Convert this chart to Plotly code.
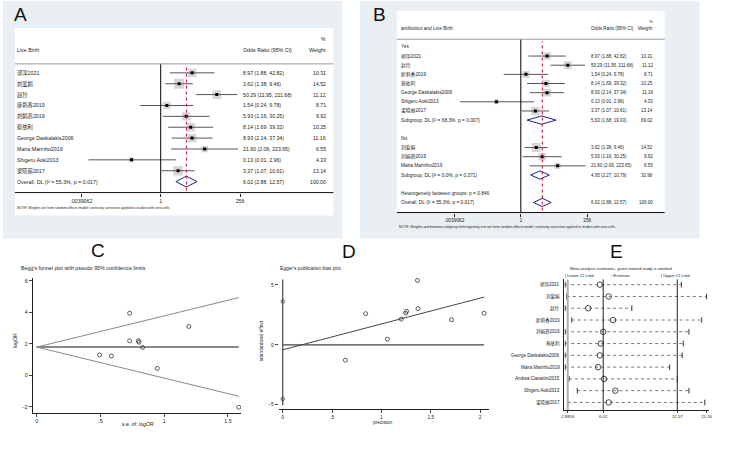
import plotly.graph_objects as go

W, H = 750, 458
FONT = "Liberation Sans, Arial, Noto Sans CJK SC, sans-serif"

# ---------------- data ----------------
A_STUDIES = ["郭萍2021", "刘爱娟", "赵玲", "廖莉香2019", "刘娟燕2019", "蔡依利",
             "George Daskalakis2006", "Maira Marinho2019", "Shigeru Aoki2013", "梁晓丽2017"]
A_OR = [8.97, 3.62, 50.29, 1.54, 5.93, 8.14, 8.93, 21.60, 0.13, 3.37]
A_LO = [1.88, 1.38, 11.95, 0.24, 1.16, 1.69, 2.14, 2.09, 0.0064, 1.07]
A_HI = [42.82, 9.46, 211.68, 9.78, 30.25, 39.32, 37.34, 223.65, 2.96, 10.61]
A_W = [10.31, 14.52, 11.12, 8.71, 9.92, 10.25, 11.16, 6.55, 4.33, 13.14]
OVERALL = [6.02, 2.88, 12.57, 100.00]
OVERALL_LABEL = "Overall, DL (I² = 55.3%, p = 0.017)"

B_YES_STUDIES = ["郭萍2021", "赵玲", "廖莉香2019", "蔡依利", "George Daskalakis2006",
                 "Shigeru Aoki2013", "梁晓丽2017"]
B_YES_OR = [8.97, 50.29, 1.54, 8.14, 8.93, 0.13, 3.37]
B_YES_LO = [1.88, 11.95, 0.24, 1.69, 2.14, 0.0064, 1.07]
B_YES_HI = [42.82, 211.68, 9.78, 39.32, 37.34, 2.96, 10.61]
B_YES_W = [10.31, 11.12, 8.71, 10.25, 11.16, 4.33, 13.14]
B_YES_SUB = [5.63, 1.68, 19.03, 69.02]
B_YES_SUB_LABEL = "Subgroup, DL (I² = 68.3%, p = 0.007)"

B_NO_STUDIES = ["刘爱娟", "刘娟燕2019", "Maira Marinho2019"]
B_NO_OR = [3.62, 5.93, 21.60]
B_NO_LO = [1.38, 1.16, 2.09]
B_NO_HI = [9.46, 30.25, 223.65]
B_NO_W = [14.52, 9.92, 6.55]
B_NO_SUB = [4.95, 2.27, 10.79, 30.98]
B_NO_SUB_LABEL = "Subgroup, DL (I² = 0.0%, p = 0.371)"
B_HET_LABEL = "Heterogeneity between groups: p = 0.846"

FOREST_TICKS = [2 ** -8, 1, 256]
FOREST_TICKTEXT = [".0039062", "1", "256"]

# Begg funnel (C)
C_SE = [0.729, 1.193, 0.729, 0.797, 0.803, 0.83, 0.493, 0.586, 0.946, 1.585]
C_LOGOR = [3.94, 3.10, 2.19, 2.19, 2.10, 1.77, 1.29, 1.22, 0.44, -2.03]
C_POOLED = 1.79
C_FUNNEL_SE = [0, 1.585]
C_FUNNEL_UP = [1.79, 4.93]
C_FUNNEL_LOW = [1.79, -1.33]

# Egger (D)
D_PREC = [0.84, 0.635, 1.06, 1.20, 1.245, 1.255, 1.365, 1.37, 1.71, 2.04]
D_STD = [2.60, -1.28, 0.47, 2.15, 2.65, 2.80, 5.38, 3.02, 2.09, 2.64]
D_REG_X = [0, 2.04]
D_REG_Y = [-0.42, 3.99]
D_ZERO_X = [0, 2.04]
D_INT_CI = [-5.05, 5.45]
D_INT_MARK = [3.62, -4.52]

# Influence (E)
E_STUDIES = ["郭萍2021", "刘爱娟", "赵玲", "廖莉香2019", "刘娟燕2019", "蔡依利",
             "George Daskalakis2006", "Maira Marinho2019", "Andrea Ciavattini2015",
             "Shigeru Aoki2013", "梁晓丽2017"]
E_EST = [5.72, 6.51, 4.70, 6.89, 6.02, 5.81, 5.72, 5.57, 6.10, 7.09, 6.51]
E_LO = [2.66, 2.80, 2.66, 3.24, 2.66, 2.66, 2.66, 2.66, 3.00, 3.73, 2.89]
E_HI = [12.93, 15.16, 8.55, 14.74, 13.60, 13.10, 13.00, 11.90, 12.57, 13.60, 15.00]
E_REF = [2.8856, 6.02, 12.57]
E_TICKS = [2.8856, 6.02, 12.57, 15.16]
E_TICKTEXT = ["2.8856", "6.02", "12.57", "15.16"]


def px(x):
    return x / W


def py(y):
    return 1 - y / H


fig = go.Figure()
shapes = []
annotations = []


def ann(text, x, y, xref="paper", yref="paper", size=5.5, xanchor="left",
        yanchor="middle", color="#222", angle=0):
    annotations.append(dict(text=text, x=x, y=y, xref=xref, yref=yref, showarrow=False,
                            xanchor=xanchor, yanchor=yanchor, textangle=angle,
                            font=dict(family=FONT, size=size, color=color), borderpad=0))


def rect(x0, y0, x1, y1, color):
    shapes.append(dict(type="rect", xref="paper", yref="paper", x0=px(x0), x1=px(x1),
                       y0=py(y1), y1=py(y0), fillcolor=color, line=dict(width=0), layer="below"))


def hline(x0, x1, y, color, width=1):
    shapes.append(dict(type="line", xref="paper", yref="paper", x0=px(x0), x1=px(x1),
                       y0=py(y), y1=py(y), line=dict(color=color, width=width)))


def fmt_ci(o, l, h):
    return f"{o:.2f} ({l:.2f}, {h:.2f})"


# backgrounds
BG = "#e9eff2"
rect(0, 0, 342, 238, BG)
rect(360, 0, 702, 238, BG)
rect(12, 27, 333, 215, "white")
rect(397, 10, 667, 212, "white")


def draw_forest(sfx, rows, label_x, ci_x, w_x, box_k, dia_h, top_px, axis_px, box_l, box_r,
                lab_size, num_size):
    xa = "x" + sfx
    ya = "y" + sfx
    lx, ly = [], []
    bx, by, bs = [], [], []
    for i, r in enumerate(rows):
        k = r["kind"]
        if k == "blank":
            continue
        ann(r["label"], px(label_x), i, yref=ya, size=lab_size)
        if k == "text":
            continue
        o, l, h, w = r["vals"]
        ann(fmt_ci(o, l, h), px(ci_x), i, yref=ya, size=num_size)
        ann(f"{w:.2f}", px(w_x), i, yref=ya, xanchor="right", size=num_size)
        if k == "study":
            lx += [l, h, None]
            ly += [i, i, None]
            bx.append(o)
            by.append(i)
            bs.append(box_k * w ** 0.5)
        else:
            fig.add_trace(go.Scatter(x=[l, o, h, o, l], y=[i, i - dia_h, i, i + dia_h, i],
                                     mode="lines", fill="toself", fillcolor="white",
                                     line=dict(color="#23237e", width=1),
                                     xaxis=xa, yaxis=ya, hoverinfo="skip"))
    fig.add_trace(go.Scatter(x=bx, y=by, mode="markers", xaxis=xa, yaxis=ya,
                             marker=dict(symbol="square", size=bs, color="#c4c4c4", line=dict(width=0))))
    fig.add_trace(go.Scatter(x=lx, y=ly, mode="lines", xaxis=xa, yaxis=ya,
                             line=dict(color="#555555", width=1)))
    fig.add_trace(go.Scatter(x=bx, y=by, mode="markers", xaxis=xa, yaxis=ya,
                             marker=dict(symbol="square", size=3, color="black")))
    shapes.append(dict(type="line", xref=xa, yref="paper", x0=1, x1=1, y0=py(axis_px), y1=py(top_px),
                       line=dict(color="black", width=1)))
    shapes.append(dict(type="line", xref=xa, yref="paper", x0=OVERALL[0], x1=OVERALL[0],
                       y0=py(axis_px - 2), y1=py(top_px + 2),
                       line=dict(color="#c8102e", width=1, dash="dot")))
    hline(box_l, box_r, top_px, "#9a9a9a", 1)
    hline(box_l, box_r, axis_px, "#111111", 1)


# ---- Panel A rows
rows_a = [dict(kind="study", label=s, vals=(o, l, h, w))
          for s, o, l, h, w in zip(A_STUDIES, A_OR, A_LO, A_HI, A_W)]
rows_a.append(dict(kind="overall", label=OVERALL_LABEL, vals=tuple(OVERALL)))
draw_forest("", rows_a, 13, 241, 327, 2.6, 0.5, 63, 192, 12, 333, 5.3, 5.2)

# ---- Panel B rows
rows_b = [dict(kind="text", label="Yes")]
rows_b += [dict(kind="study", label=s, vals=(o, l, h, w))
           for s, o, l, h, w in zip(B_YES_STUDIES, B_YES_OR, B_YES_LO, B_YES_HI, B_YES_W)]
rows_b.append(dict(kind="sub", label=B_YES_SUB_LABEL, vals=tuple(B_YES_SUB)))
rows_b.append(dict(kind="blank"))
rows_b.append(dict(kind="text", label="No"))
rows_b += [dict(kind="study", label=s, vals=(o, l, h, w))
           for s, o, l, h, w in zip(B_NO_STUDIES, B_NO_OR, B_NO_LO, B_NO_HI, B_NO_W)]
rows_b.append(dict(kind="sub", label=B_NO_SUB_LABEL, vals=tuple(B_NO_SUB)))
rows_b.append(dict(kind="blank"))
rows_b.append(dict(kind="text", label=B_HET_LABEL))
rows_b.append(dict(kind="overall", label=OVERALL_LABEL, vals=tuple(OVERALL)))
draw_forest("2", rows_b, 400, 592, 656, 2.35, 0.45, 38.3, 212, 397, 667, 4.8, 4.5)

# headers A
ann("%", px(327), py(38), size=5, xanchor="right")
ann("Live Birth", px(13), py(49), size=5.3)
ann("Odds Ratio (95% CI)", px(241), py(49), size=5.3)
ann("Weight", px(327), py(49), size=5.3, xanchor="right")
ann("NOTE: Weights are from random-effects model; continuity correction applied to studies with zero cells",
    px(13), py(207), size=3.4)
# headers B
ann("%", px(656), py(20.5), size=4.4, xanchor="right")
ann("antibiotics and Live Birth", px(400), py(27.5), size=4.8)
ann("Odds Ratio (95% CI)", px(592), py(27.5), size=4.6)
ann("Weight", px(656), py(27.5), size=4.6, xanchor="right")
ann("NOTE: Weights and between-subgroup heterogeneity test are from random-effects model; "
    "continuity correction applied to studies with zero cells", px(398), py(226), size=3.4)

# ---- Panel C
fig.add_trace(go.Scatter(x=C_FUNNEL_SE, y=C_FUNNEL_UP, mode="lines", xaxis="x3", yaxis="y3",
                         line=dict(color="#8a8a8a", width=1)))
fig.add_trace(go.Scatter(x=C_FUNNEL_SE, y=C_FUNNEL_LOW, mode="lines", xaxis="x3", yaxis="y3",
                         line=dict(color="#8a8a8a", width=1)))
fig.add_trace(go.Scatter(x=C_FUNNEL_SE, y=[C_POOLED, C_POOLED], mode="lines", xaxis="x3", yaxis="y3",
                         line=dict(color="#8a8a8a", width=2)))
fig.add_trace(go.Scatter(x=C_SE, y=C_LOGOR, mode="markers", xaxis="x3", yaxis="y3",
                         marker=dict(symbol="circle-open", size=4, color="#333",
                                     line=dict(width=0.8, color="#333"))))

# ---- Panel D
fig.add_trace(go.Scatter(x=[0, 0], y=D_INT_CI, mode="lines", xaxis="x4", yaxis="y4",
                         line=dict(color="#444", width=1.2)))
fig.add_trace(go.Scatter(x=[0, 0], y=D_INT_MARK, mode="markers", xaxis="x4", yaxis="y4",
                         marker=dict(symbol="circle-open", size=3.5, color="#444",
                                     line=dict(width=0.8, color="#444"))))
fig.add_trace(go.Scatter(x=D_ZERO_X, y=[0, 0], mode="lines", xaxis="x4", yaxis="y4",
                         line=dict(color="#444", width=1.2)))
fig.add_trace(go.Scatter(x=D_REG_X, y=D_REG_Y, mode="lines", xaxis="x4", yaxis="y4",
                         line=dict(color="#444", width=1)))
fig.add_trace(go.Scatter(x=D_PREC, y=D_STD, mode="markers", xaxis="x4", yaxis="y4",
                         marker=dict(symbol="circle-open", size=4, color="#333",
                                     line=dict(width=0.8, color="#333"))))

# ---- Panel E
for v, c, w in zip(E_REF, ["#b0b0b0", "#222", "#222"], [2, 1, 1]):
    shapes.append(dict(type="line", xref="x5", yref="y5 domain", x0=v, x1=v, y0=0, y1=1,
                       line=dict(color=c, width=w)))
ex, ey = [], []
for i, (l, h) in enumerate(zip(E_LO, E_HI)):
    ex += [l, h, None]
    ey += [i, i, None]
fig.add_trace(go.Scatter(x=ex, y=ey, mode="lines", xaxis="x5", yaxis="y5",
                         line=dict(color="#777", width=1, dash="dot")))
fig.add_trace(go.Scatter(x=E_LO + E_HI, y=list(range(len(E_LO))) * 2, mode="markers",
                         xaxis="x5", yaxis="y5",
                         marker=dict(symbol="line-ns", size=4, line=dict(width=1, color="#333"))))
fig.add_trace(go.Scatter(x=E_EST, y=list(range(len(E_EST))), mode="markers", xaxis="x5", yaxis="y5",
                         marker=dict(symbol="circle-open", size=5.5, color="#333",
                                     line=dict(width=0.9, color="#333"))))
for i, s in enumerate(E_STUDIES):
    ann(s, px(563), i, yref="y5", size=4.5, xanchor="right")
ann("Meta-analysis estimates, given named study is omitted", px(623), py(268.5), size=4.2, xanchor="center")
ann("| Lower CI Limit", px(566), py(275), size=4.2)
ann("○Estimate", px(612), py(275), size=4.2)
ann("| Upper CI Limit", px(662), py(275), size=4.2)

# titles / labels
for letter, x, y in [("A", 17.5, 13.5), ("B", 380, 14), ("C", 96, 250), ("D", 349, 251), ("E", 618, 251)]:
    ann(letter, px(x), py(y), size=19, xanchor="center", color="#111")
ann("Begg's funnel plot with pseudo 95% confidence limits", px(17), py(268), size=5.3)
ann("logOR", px(12), py(340), size=5.3, xanchor="center", angle=-90)
ann("s.e. of: logOR", px(136), py(424), size=5.2, xanchor="center")
ann("Egger's publication bias plot", px(278), py(268), size=4.9)
ann("standardized effect", px(260), py(340), size=4.8, xanchor="center", angle=-90)
ann("precision", px(383), py(422), size=4.8, xanchor="center")

tickfont = dict(family=FONT, size=5.3, color="#222")
common_off = dict(showgrid=False, zeroline=False)

fig.update_layout(
    width=W, height=H, autosize=False, margin=dict(l=0, r=0, t=0, b=0),
    paper_bgcolor="white", plot_bgcolor="rgba(0,0,0,0)", showlegend=False, hovermode=False,
    shapes=shapes, annotations=annotations,
    xaxis=dict(domain=[px(12), px(242)], type="log", range=[-4.425, 2.499], anchor="y",
               tickvals=FOREST_TICKS, ticktext=FOREST_TICKTEXT, ticks="outside", ticklen=3,
               tickcolor="#222", showline=False, tickfont=tickfont, **common_off),
    yaxis=dict(domain=[py(192), py(63)], range=[11.01, -0.826], visible=False, anchor="x"),
    xaxis2=dict(domain=[px(397), px(593)], type="log", range=[-4.494, 2.553], anchor="y2",
                tickvals=FOREST_TICKS, ticktext=FOREST_TICKTEXT, ticks="outside", ticklen=3,
                tickcolor="#222", showline=False,
                tickfont=dict(family=FONT, size=4.8, color="#222"), **common_off),
    yaxis2=dict(domain=[py(212), py(38.3)], range=[18.1, -0.84], visible=False, anchor="x2"),
    xaxis3=dict(domain=[px(30), px(240)], range=[-0.031, 1.603], anchor="y3",
                tickvals=[0, 0.5, 1, 1.5], ticktext=["0", ".5", "1", "1.5"], ticks="outside",
                ticklen=3, showline=True, linecolor="#222", linewidth=1, tickfont=tickfont, **common_off),
    yaxis3=dict(domain=[py(413), py(278)], range=[-2.4, 6.15], anchor="x3",
                tickvals=[-2, 0, 2, 4, 6], ticks="outside", ticklen=3, showline=True,
                linecolor="#222", linewidth=1, tickfont=tickfont, **common_off),
    xaxis4=dict(domain=[px(278), px(490)], range=[-0.04, 2.09], anchor="y4",
                tickvals=[0, 0.5, 1, 1.5, 2], ticktext=["0", ".5", "1", "1.5", "2"], ticks="outside",
                ticklen=3, showline=True, linecolor="#222", linewidth=1,
                tickfont=dict(family=FONT, size=4.9, color="#222"), **common_off),
    yaxis4=dict(domain=[py(409), py(275)], range=[-5.375, 5.8], anchor="x4",
                tickvals=[-5, 0, 5], ticks="outside", ticklen=3, showline=False,
                tickfont=dict(family=FONT, size=4.9, color="#222"), **common_off),
    xaxis5=dict(domain=[px(566), px(712)], range=[2.597, 15.4], anchor="y5",
                tickvals=E_TICKS, ticktext=E_TICKTEXT, ticks="outside", ticklen=2,
                showline=True, linecolor="#222", linewidth=1,
                tickfont=dict(family=FONT, size=4.3, color="#222"), **common_off),
    yaxis5=dict(domain=[py(410), py(279)], range=[10.65, -0.45], anchor="x5",
                showticklabels=False, ticks="", showline=True, linecolor="#222", linewidth=1,
                **common_off),
)

fig.write_html("out.html", config={"displayModeBar": False},
               post_script="document.body.style.margin='0px';")
